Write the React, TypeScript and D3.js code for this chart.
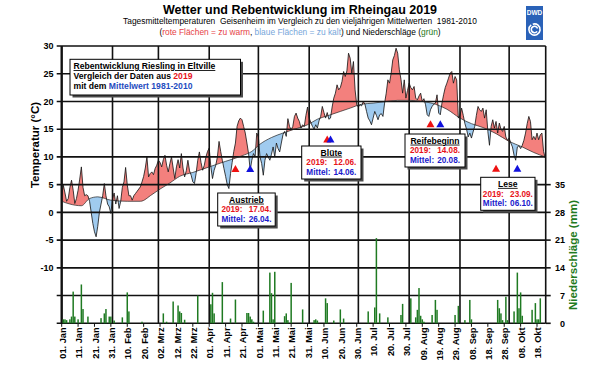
import React from 'react';
import * as d3 from 'd3';

// Tagesmitteltemperatur 2019 (°C), ein Wert pro Tag ab 01. Jan
const tempJan = [3.0, 4.9, 3.5, 2.0, 2.5, 4.5, 5.8, 4.0, 1.6, 2.5, 4.0, 6.0, 8.2, 4.5, 3.0, 3.2, 3.0, 2.0, 0.0, -2.0, -3.5, -4.4, -2.5, 0.0, 1.5, 3.0, 5.2, 3.0, 1.5, 1.0, -0.2];
const tempFeb = [2.5, 3.5, 1.5, 3.0, 0.7, 2.0, 4.5, 5.5, 8.1, 5.0, 3.0, 3.0, 2.2, 3.0, 3.4, 3.8, 4.2, 4.6, 5.5, 6.5, 8.0, 10.0, 6.4, 7.0, 7.3, 6.8, 7.9, 8.5];
const tempMar = [9.4, 9.0, 8.2, 9.5, 10.3, 8.5, 7.3, 8.8, 10.0, 8.0, 6.1, 8.2, 9.5, 8.0, 10.6, 8.0, 6.4, 7.5, 9.4, 7.5, 6.7, 5.5, 5.2, 7.0, 9.4, 10.9, 9.0, 7.6, 8.5, 10.0, 11.0];
const tempApr = [11.6, 8.2, 6.1, 7.6, 8.5, 10.0, 12.8, 11.0, 9.4, 7.9, 6.5, 5.0, 4.3, 7.0, 9.0, 11.0, 12.5, 15.5, 16.5, 17.0, 16.7, 15.5, 14.3, 12.5, 10.6, 7.6, 9.4, 10.6, 10.0, 14.3];
const tempMay = [13.6, 10.0, 8.8, 6.7, 9.4, 10.6, 10.0, 9.4, 10.5, 11.8, 10.0, 12.5, 11.5, 10.9, 12.5, 14.0, 14.6, 13.7, 16.9, 15.5, 14.9, 15.5, 17.3, 17.9, 17.0, 16.4, 15.2, 15.8, 15.5, 17.5, 19.0];
const tempJun = [17.0, 16.2, 15.5, 15.0, 15.8, 15.2, 16.5, 17.3, 19.1, 18.0, 17.0, 18.0, 16.8, 17.0, 19.0, 20.6, 21.5, 23.0, 22.1, 22.5, 23.6, 25.4, 24.5, 25.5, 28.7, 27.8, 25.1, 27.2, 22.1, 19.4];
const tempJul = [19.0, 19.4, 19.2, 20.0, 19.5, 18.2, 17.0, 16.5, 15.8, 17.0, 18.2, 17.5, 16.7, 17.6, 17.8, 17.3, 19.7, 21.5, 23.9, 23.3, 25.1, 27.5, 28.3, 29.6, 28.7, 25.7, 24.0, 21.5, 23.9, 20.6, 22.0];
const tempAug = [23.3, 22.5, 22.1, 22.7, 20.6, 20.3, 21.0, 21.5, 20.0, 20.5, 19.4, 17.6, 17.3, 18.5, 19.1, 19.5, 19.7, 21.2, 17.9, 17.6, 19.7, 21.2, 22.5, 23.3, 24.2, 25.1, 25.4, 23.3, 24.5, 23.9, 17.0];
const tempSep = [17.5, 18.8, 17.5, 16.0, 15.0, 13.6, 14.3, 13.4, 14.5, 15.5, 17.5, 19.1, 18.5, 18.2, 18.8, 17.0, 18.5, 14.6, 12.1, 15.5, 16.7, 15.2, 16.4, 14.3, 16.1, 15.0, 14.6, 15.5, 13.6, 13.0];
const tempOct = [13.4, 12.5, 11.8, 10.3, 9.4, 11.8, 12.0, 11.5, 12.1, 13.0, 14.3, 16.0, 17.3, 16.4, 13.1, 13.7, 13.1, 14.3, 13.1, 14.0, 14.3, 11.0, 9.8];
const temp2019 = [...tempJan, ...tempFeb, ...tempMar, ...tempApr, ...tempMay, ...tempJun, ...tempJul, ...tempAug, ...tempSep, ...tempOct];

// vieljähriges Mittel 1981-2010 (Tag im Jahr, °C)
const meanDayOfYear = [0, 5, 12, 17, 22, 30, 40, 48, 55, 60, 66, 72, 80, 90, 100, 110, 116, 121, 128, 135, 142, 150, 156, 162, 170, 176, 183, 190, 198, 205, 212, 220, 228, 235, 243, 250, 257, 265, 273, 281, 288, 295];
const meanTemp = [2.0, 1.5, 1.2, 2.5, 2.8, 2.2, 2.0, 2.0, 3.2, 4.2, 5.3, 6.5, 7.2, 8.2, 9.2, 10.2, 11.0, 12.3, 13.5, 14.3, 15.0, 15.8, 16.8, 17.4, 18.2, 18.8, 19.5, 19.7, 20.0, 20.2, 20.2, 20.0, 19.5, 18.6, 17.0, 16.0, 15.3, 14.2, 12.8, 11.8, 10.8, 10.0];

// Niederschlag 2019 (Tag im Jahr, mm)
const rainDayOfYear = [1, 2, 3, 5, 6, 7, 8, 10, 12, 13, 16, 24, 26, 27, 29, 30, 32, 37, 40, 41, 49, 62, 64, 68, 71, 72, 73, 75, 83, 91, 92, 93, 98, 103, 106, 113, 114, 115, 116, 117, 123, 127, 128, 129, 130, 136, 137, 138, 140, 147, 154, 155, 156, 161, 162, 166, 170, 172, 187, 191, 192, 194, 199, 207, 208, 213, 216, 217, 218, 219, 220, 221, 226, 228, 229, 240, 242, 246, 249, 250, 266, 267, 268, 269, 271, 272, 276, 278, 279, 280, 281, 287, 289, 290, 291, 292];
const rainMm = [1.0, 1.0, 0.8, 1.0, 1.7, 8.0, 1.7, 1.0, 9.8, 3.6, 1.7, 1.3, 2.5, 3.6, 1.7, 1.7, 0.7, 1.5, 7.8, 3.0, 0.4, 2.5, 0.4, 5.5, 4.5, 3.0, 2.6, 0.9, 7.0, 4.8, 7.7, 2.5, 10.4, 1.2, 6.0, 2.6, 2.6, 1.7, 1.0, 0.4, 3.2, 12.8, 7.6, 1.0, 13.0, 1.8, 2.5, 0.8, 10.2, 3.5, 0.8, 1.0, 0.7, 6.3, 5.1, 0.7, 3.5, 1.2, 3.0, 4.0, 21.5, 2.5, 1.5, 2.1, 4.9, 6.3, 1.5, 3.4, 8.9, 1.9, 1.0, 0.4, 2.1, 5.9, 3.4, 2.1, 4.4, 0.8, 5.9, 1.0, 5.9, 3.8, 2.5, 0.8, 6.7, 0.8, 3.0, 12.8, 3.8, 7.8, 1.9, 3.4, 5.1, 1.0, 1.0, 6.3];

const monthNames = ['Jan', 'Feb', 'Mrz', 'Apr', 'Mai', 'Jun', 'Jul', 'Aug', 'Sep', 'Okt'];
const xTickLabels = ['01. Jan', '11. Jan', '21. Jan', '31. Jan', '10. Feb', '20. Feb', '02. Mrz', '12. Mrz', '22. Mrz', '01. Apr', '11. Apr', '21. Apr', '01. Mai', '11. Mai', '21. Mai', '31. Mai', '10. Jun', '20. Jun', '30. Jun', '10. Jul', '20. Jul', '30. Jul', '09. Aug', '19. Aug', '29. Aug', '08. Sep', '18. Sep', '28. Sep', '08. Okt', '18. Okt'];
const tempTickLabels = [30, 25, 20, 15, 10, 5, 0, -5, -10];
const rainTickLabels = [0, 7, 14, 21, 28, 35];

const phaseNames = ['Austrieb', 'Blüte', 'Reifebeginn', 'Lese'];
const phase2019 = ['17.04.', '12.06.', '14.08.', '23.09.'];
const phaseMean = ['26.04.', '14.06.', '20.08.', '06.10.'];

// placement of the phase boxes and markers (layout only)
const phaseLayout = [
  { x: 217.7, y: 193, w: 57.5, h: 33, markY: 172 },
  { x: 301.7, y: 146, w: 59.3, h: 33, markY: 142.5 },
  { x: 405, y: 134, w: 60, h: 33, markY: 127.3 },
  { x: 480.7, y: 177.3, w: 54.3, h: 33, markY: 171.7 },
];

const FONT = '"Liberation Sans", Arial, Helvetica, sans-serif';
const RED_FILL = '#f3807d';
const BLUE_FILL = '#a0cbef';
const RED_TXT = '#e8141b';
const BLUE_TXT = '#1a1acc';
const GREEN = '#1f7a22';

const day0 = Date.UTC(2019, 0, 1);
const DAY = 86400000;
const dayDate = (d: number) => new Date(day0 + d * DAY);
const parseDM = (s: string) => {
  const [d, m] = s.split('.').map(Number);
  return new Date(Date.UTC(2019, m - 1, d));
};
const parseLabel = (s: string) => {
  const [d, mn] = s.split('. ');
  return new Date(Date.UTC(2019, monthNames.indexOf(mn), Number(d)));
};

const plotL = 61.7, plotR = 545.7, plotT = 46, plotB = 323.3;

function PhaseBox({ lay, title, d19, dMean }: { lay: typeof phaseLayout[0]; title: string; d19: string; dMean: string }) {
  const { x, y, w, h } = lay;
  const pad = Math.max(1.8, (w - 50) / 2);
  return (
    <g fontFamily={FONT} fontWeight="bold">
      <rect x={x + 2.5} y={y + 2.5} width={w} height={h} fill="#4a4a4a" />
      <rect x={x} y={y} width={w} height={h} fill="#fff" stroke="#000" strokeWidth={1} />
      <text x={x + w / 2} y={y + 9.6} textAnchor="middle" fontSize={8.6} style={{ textDecoration: 'underline' }}>{title}</text>
      <text x={x + pad} y={y + 19.2} fontSize={8.2} fill={RED_TXT}>2019:</text>
      <text x={x + w - pad} y={y + 19.2} fontSize={8.2} fill={RED_TXT} textAnchor="end">{d19}</text>
      <text x={x + pad} y={y + 28.6} fontSize={8.2} fill={BLUE_TXT}>Mittel:</text>
      <text x={x + w - pad} y={y + 28.6} fontSize={8.2} fill={BLUE_TXT} textAnchor="end">{dMean}</text>
    </g>
  );
}

export default function App() {
  const x = d3.scaleUtc().domain([dayDate(0), dayDate(295.3)]).range([plotL, plotR]);
  const yT = d3.scaleLinear().domain([-20, 30]).range([plotB, plotT]);
  const yR = d3.scaleLinear().domain([0, 35]).range([plotB, yT(5)]);

  const tempPts = temp2019.map((v, i) => ({ date: dayDate(i), v }));
  const meanPts = meanDayOfYear.map((d, i) => ({ date: dayDate(d), v: meanTemp[i] }));

  type P = { date: Date; v: number };
  const curveMean = d3.curveMonotoneX;
  const meanLine = d3.line<P>().x(p => x(p.date)).y(p => yT(p.v)).curve(curveMean);
  const aboveMean = d3.area<P>().x(p => x(p.date)).y0(plotT - 5).y1(p => yT(p.v)).curve(curveMean);
  const belowMean = d3.area<P>().x(p => x(p.date)).y0(plotB + 5).y1(p => yT(p.v)).curve(curveMean);
  const tempLine = d3.line<P>().x(p => x(p.date)).y(p => yT(p.v));
  const underTemp = d3.area<P>().x(p => x(p.date)).y0(plotB).y1(p => yT(p.v));
  const overTemp = d3.area<P>().x(p => x(p.date)).y0(plotT).y1(p => yT(p.v));

  const monthStarts = d3.utcMonth.range(dayDate(0), dayDate(296));
  const hLines = d3.range(-20, 31, 5);

  // DWD-Logo Spirale
  const spiral = d3.path();
  spiral.arc(534.5, 29.5, 5.6, -Math.PI * 0.6, Math.PI * 1.3);
  spiral.moveTo(534.5 + 3.2 * Math.cos(Math.PI * 0.2), 29.5 + 3.2 * Math.sin(Math.PI * 0.2));
  spiral.arc(534.5, 29.5, 3.2, Math.PI * 0.2, Math.PI * 1.9);

  return (
    <svg width={600} height={373} style={{ position: 'absolute', left: 0, top: 0, background: '#fff' }} fontFamily={FONT}>
      <defs>
        <clipPath id="cAbove"><path d={aboveMean(meanPts) || ''} /></clipPath>
        <clipPath id="cBelow"><path d={belowMean(meanPts) || ''} /></clipPath>
      </defs>

      {/* Titel */}
      <text x={300} y={14} textAnchor="middle" fontWeight="bold" fontSize={12.5}>Wetter und Rebentwicklung im Rheingau 2019</text>
      <text x={300} y={24} textAnchor="middle" fontSize={8.4} style={{ whiteSpace: 'pre' }}>
        {'Tagesmitteltemperaturen  Geisenheim im Vergleich zu den vieljährigen Mittelwerten  1981-2010'}
      </text>
      <text x={300} y={34.5} textAnchor="middle" fontSize={8.4}>
        {'('}<tspan fill="#e63e44">rote Flächen = zu warm</tspan>{', '}
        <tspan fill="#76a6da">blaue Flächen = zu kalt</tspan>{') und Niederschläge ('}
        <tspan fill={GREEN}>grün</tspan>{')'}
      </text>

      {/* DWD Logo */}
      <rect x={526} y={6} width={17} height={34} fill="#2a62b8" />
      <text x={534.5} y={15} textAnchor="middle" fontSize={6.5} fontWeight="bold" fill="#fff">DWD</text>
      <path d={spiral.toString()} fill="none" stroke="#fff" strokeWidth={1.6} />

      {/* Abweichungsflächen */}
      <path d={underTemp(tempPts) || ''} fill={RED_FILL} clipPath="url(#cAbove)" />
      <path d={overTemp(tempPts) || ''} fill={BLUE_FILL} clipPath="url(#cBelow)" />

      {/* Gitter */}
      <g stroke="#111" strokeWidth={1.6}>
        {hLines.map(v => (
          <line key={'h' + v} x1={plotL - 5} x2={plotR} y1={yT(v)} y2={yT(v)} />
        ))}
        {rainTickLabels.map(v => (
          <line key={'rt' + v} x1={plotR} x2={plotR + 5} y1={yR(v)} y2={yR(v)} />
        ))}
        {monthStarts.map(m => (
          <line key={'v' + m.getTime()} x1={x(m)} x2={x(m)} y1={plotT} y2={plotB} strokeWidth={m.getUTCMonth() === 0 ? 2.4 : 1.6} />
        ))}
        <line x1={plotR} x2={plotR} y1={plotT} y2={plotB} />
        {xTickLabels.map(s => (
          <line key={'xt' + s} x1={x(parseLabel(s))} x2={x(parseLabel(s))} y1={plotB} y2={plotB + 3.5} strokeWidth={1} />
        ))}
      </g>

      {/* Linien */}
      <path d={meanLine(meanPts) || ''} fill="none" stroke="#222" strokeWidth={0.7} />
      <path d={tempLine(tempPts) || ''} fill="none" stroke="#111" strokeWidth={0.8} />

      {/* Niederschlag */}
      <g fill={GREEN}>
        {rainDayOfYear.map((d, i) => (
          <rect key={'r' + d} x={x(dayDate(d)) - 0.75} width={1.5} y={yR(rainMm[i])} height={plotB - yR(rainMm[i])} />
        ))}
      </g>

      {/* Achsenbeschriftungen */}
      <g fontWeight="bold" fontSize={9}>
        {tempTickLabels.map(v => (
          <text key={'tl' + v} x={53.5} y={yT(v) + 3.2} textAnchor="end">{v}</text>
        ))}
        {rainTickLabels.map(v => (
          <text key={'rl' + v} x={565} y={yR(v) + 3.2} textAnchor="end">{v}</text>
        ))}
      </g>
      <g fontWeight="bold" fontSize={9.2}>
        {xTickLabels.map(s => (
          <text key={'xl' + s} transform={`translate(${x(parseLabel(s)) + 1},327.5) rotate(-90)`} textAnchor="end" dy="0.35em">{s}</text>
        ))}
      </g>
      <text transform="translate(38.5,145) rotate(-90)" textAnchor="middle" fontWeight="bold" fontSize={11.5}>Temperatur (°C)</text>
      <text transform="translate(577,255) rotate(-90)" textAnchor="middle" fontWeight="bold" fontSize={11.5} fill={GREEN}>Niederschläge (mm)</text>

      {/* Legende */}
      <rect x={72.5} y={61.8} width={170.5} height={35.7} fill="#4a4a4a" />
      <rect x={70} y={59.3} width={170.5} height={35.7} fill="#fff" stroke="#000" strokeWidth={1} />
      <g fontWeight="bold" fontSize={8.6}>
        <text x={73.5} y={69} style={{ textDecoration: 'underline' }}>Rebentwicklung Riesling in Eltville</text>
        <text x={73.5} y={78.8}>{'Vergleich der Daten aus '}<tspan fill={RED_TXT}>2019</tspan></text>
        <text x={73.5} y={88.5}>{'mit dem '}<tspan fill="#1f4cc0">Mittelwert 1981-2010</tspan></text>
      </g>

      {/* Phänologische Phasen */}
      {phaseNames.map((n, i) => {
        const lay = phaseLayout[i];
        const xr = x(parseDM(phase2019[i]));
        const xb = x(parseDM(phaseMean[i]));
        const tri = (cx: number) => `M${cx - 4},${lay.markY} L${cx + 4},${lay.markY} L${cx},${lay.markY - 7} Z`;
        return (
          <g key={n}>
            <path d={tri(xr)} fill="#ee1111" />
            <path d={tri(xb)} fill="#1111dd" />
            <PhaseBox lay={lay} title={n} d19={phase2019[i]} dMean={phaseMean[i]} />
          </g>
        );
      })}
    </svg>
  );
}
